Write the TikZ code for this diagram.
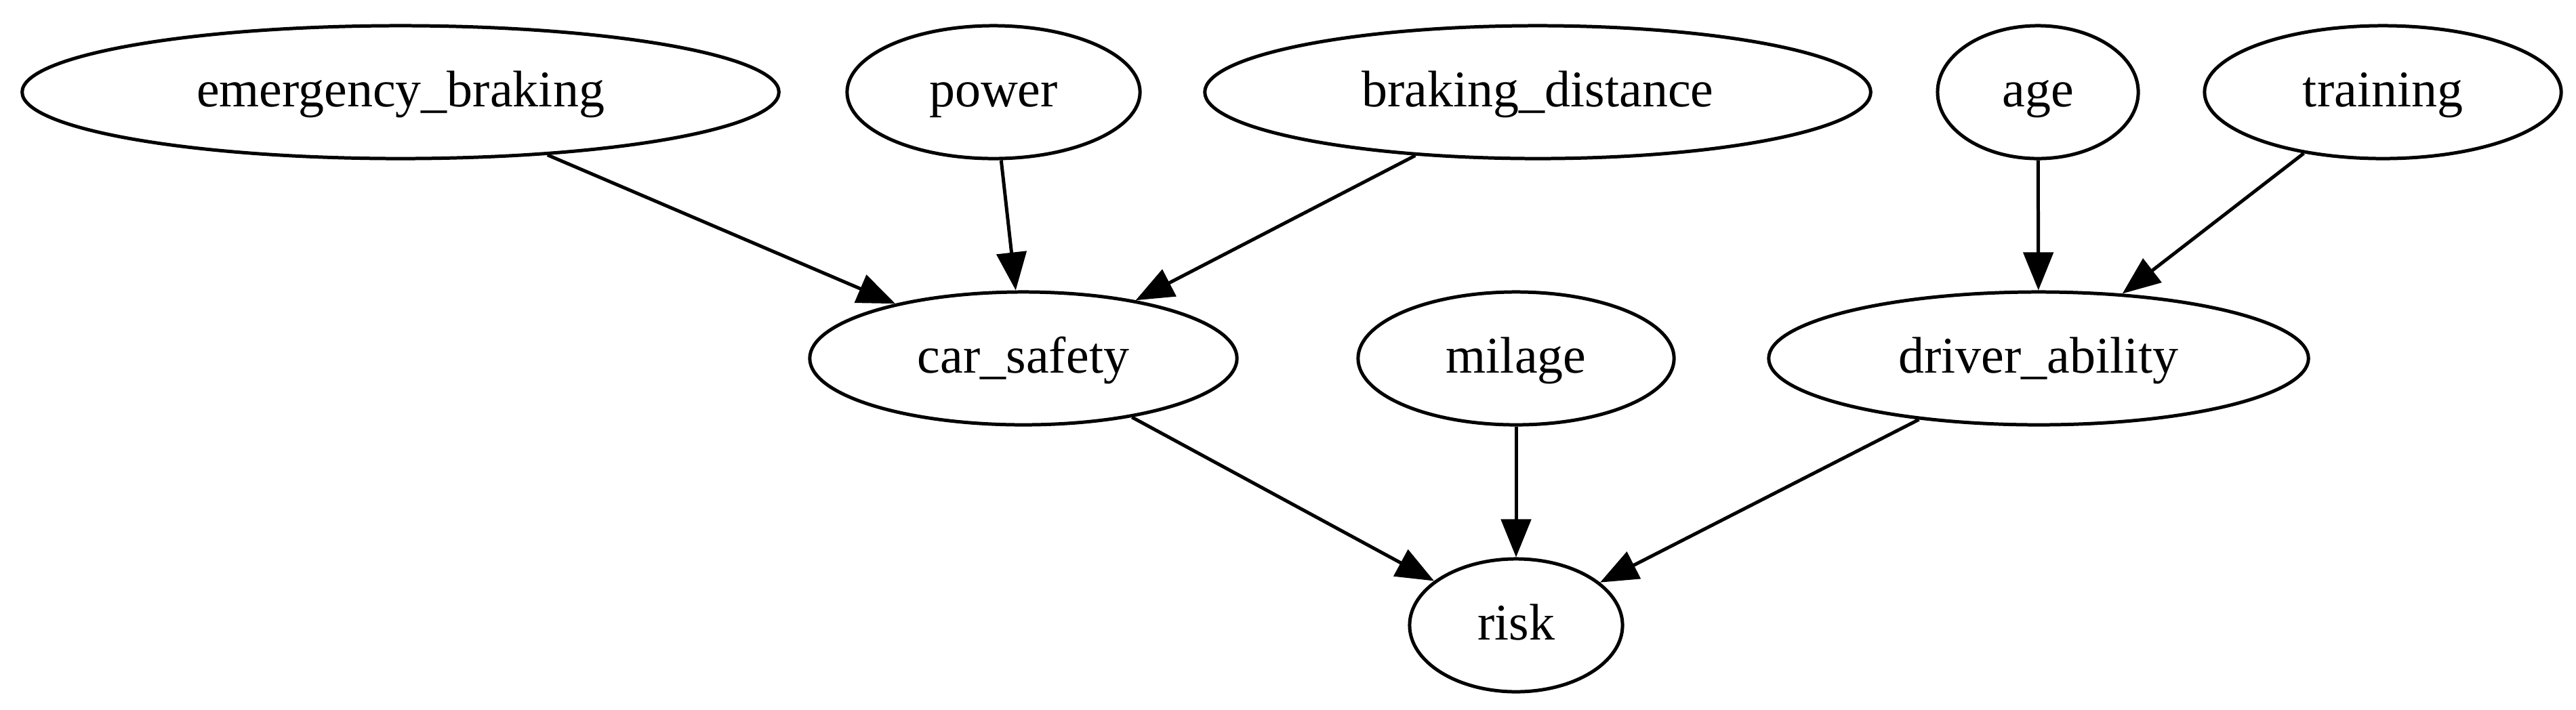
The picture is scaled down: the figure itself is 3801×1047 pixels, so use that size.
\documentclass[tikz,border=0pt]{standalone}
\usepackage{fontspec}
\setmainfont{Liberation Serif}
\usetikzlibrary{shapes.geometric,arrows.meta}
\begin{document}
\begin{tikzpicture}[x=0.01cm,y=-0.01cm,
  var/.style={ellipse,draw,line width=1.42pt,inner sep=0pt,minimum height=1.96cm,text height=0.62cm,text depth=0.2cm,font=\fontsize{21.6pt}{26pt}\selectfont},
  edge/.style={line width=1.42pt,-{Triangle[length=0.56cm,width=0.44cm]}}]
\useasboundingbox (0,0) rectangle (3801,1047);
\node[var,minimum width=11.16cm] (eb) at (591,136) {emergency\_braking};
\node[var,minimum width=4.32cm] (pw) at (1466,136) {power};
\node[var,minimum width=9.82cm] (bd) at (2269,136) {braking\_distance};
\node[var,minimum width=2.96cm] (ag) at (3007,136) {age};
\node[var,minimum width=5.26cm] (tr) at (3516,136) {training};
\node[var,minimum width=6.30cm] (cs) at (1510,529) {car\_safety};
\node[var,minimum width=4.66cm] (mi) at (2237,529) {milage};
\node[var,minimum width=7.96cm] (da) at (3008,529) {driver\_ability};
\node[var,minimum width=3.14cm] (ri) at (2237,923) {risk};
\draw[edge] (eb) -- (cs);
\draw[edge] (pw) -- (cs);
\draw[edge] (bd) -- (cs);
\draw[edge] (ag) -- (da);
\draw[edge] (tr) -- (da);
\draw[edge] (cs) -- (ri);
\draw[edge] (mi) -- (ri);
\draw[edge] (da) -- (ri);
\end{tikzpicture}
\end{document}
